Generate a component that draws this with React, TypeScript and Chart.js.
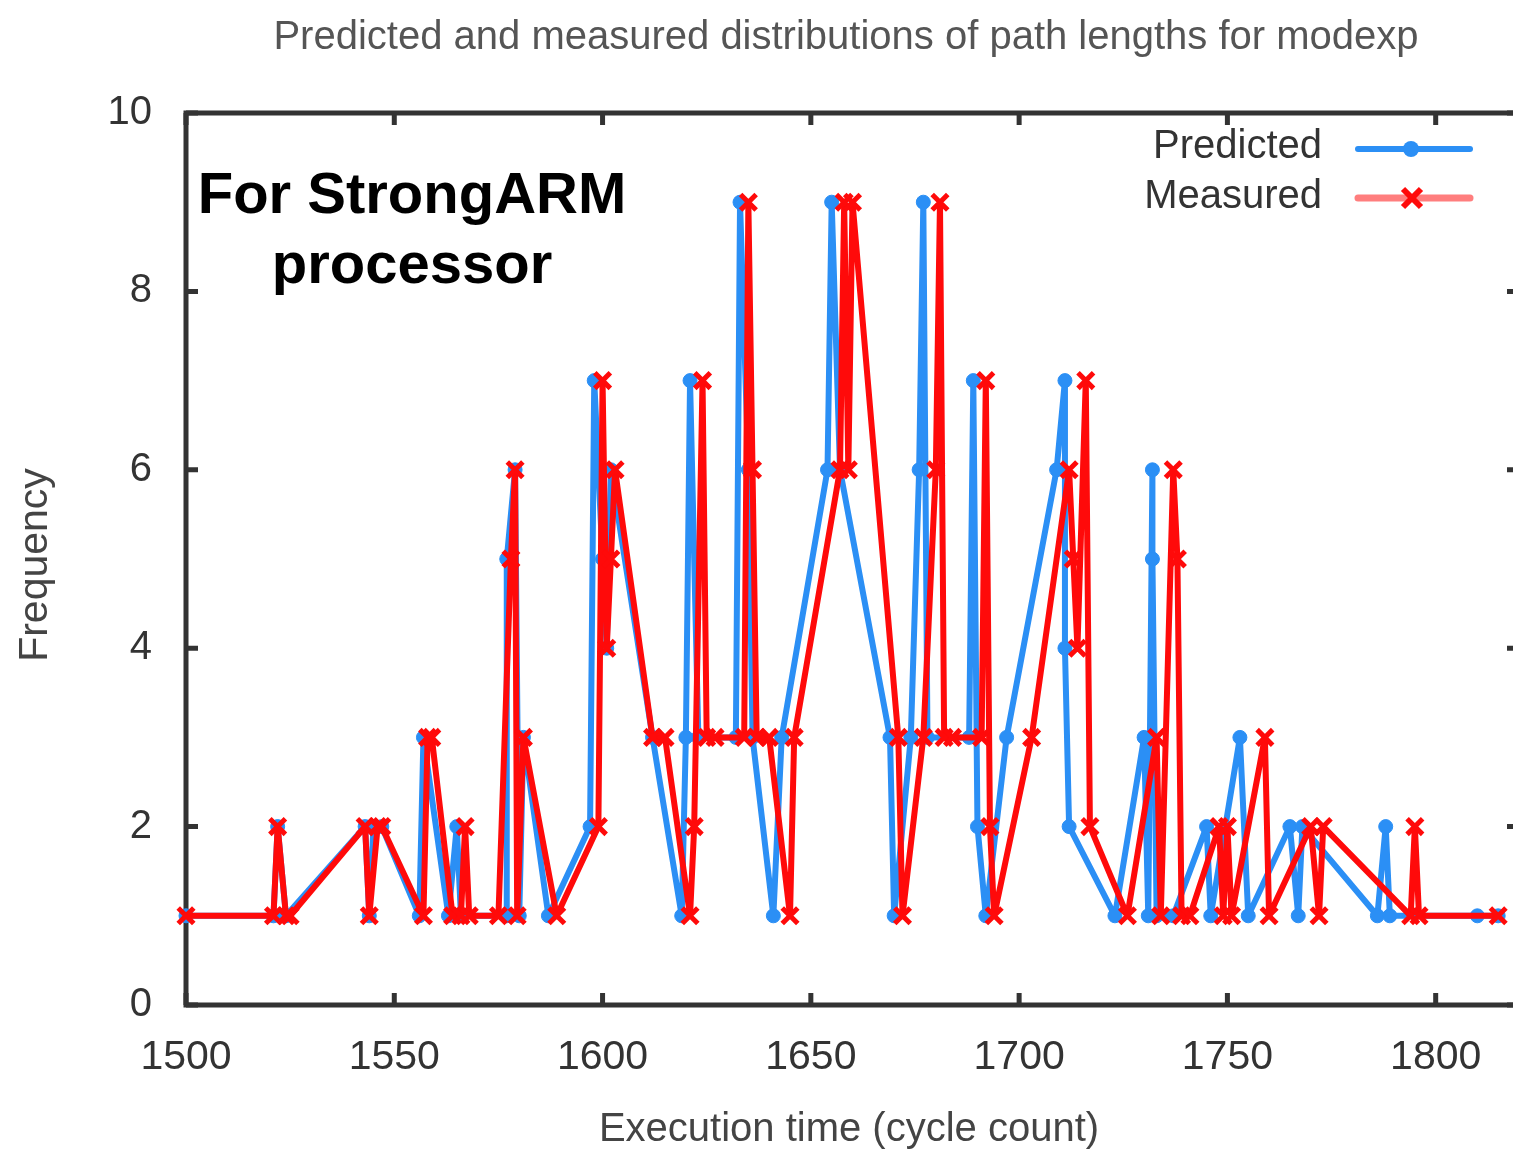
import { useEffect, useRef } from "react";
import { Chart, registerables } from "chart.js";

Chart.register(...registerables);

const chartTitle = "Predicted and measured distributions of path lengths for modexp";
const xTitle = "Execution time (cycle count)";
const yTitle = "Frequency";
const seriesNames = ["Predicted", "Measured"];
const noteLines = ["For StrongARM", "processor"];

const xTicks = [1500, 1550, 1600, 1650, 1700, 1750, 1800];
const yTicks = [0, 2, 4, 6, 8, 10];

const predictedX = [1500, 1521, 1522, 1524, 1543, 1544, 1545, 1547, 1556, 1557, 1563, 1565, 1566, 1577, 1577, 1579, 1580, 1581, 1587, 1597, 1598, 1600, 1601, 1602, 1612, 1619, 1620, 1621, 1623, 1632, 1633, 1635, 1636, 1641, 1643, 1654, 1655, 1657, 1669, 1670, 1674, 1676, 1677, 1678, 1688, 1689, 1690, 1692, 1697, 1709, 1711, 1711, 1712, 1723, 1730, 1731, 1732, 1732, 1733, 1737, 1745, 1746, 1753, 1755, 1765, 1767, 1768, 1786, 1788, 1789, 1810, 1815];
const predictedY = [1, 1, 2, 1, 2, 1, 2, 2, 1, 3, 1, 2, 1, 1, 5, 6, 1, 3, 1, 2, 7, 5, 4, 6, 3, 1, 3, 7, 3, 3, 9, 6, 3, 1, 3, 6, 9, 6, 3, 1, 3, 6, 9, 3, 3, 7, 2, 1, 3, 6, 7, 4, 2, 1, 3, 1, 6, 5, 1, 1, 2, 1, 3, 1, 2, 1, 2, 1, 2, 1, 1, 1];

const measuredX = [1500, 1521, 1522, 1524, 1525, 1543, 1544, 1546, 1547, 1557, 1558, 1559, 1564, 1566, 1567, 1568, 1575, 1578, 1579, 1579.5, 1581, 1589, 1599, 1600, 1601, 1602, 1603, 1612, 1615, 1621, 1622, 1624, 1625, 1627, 1634, 1635, 1636, 1637, 1640, 1645, 1646, 1657, 1658, 1659, 1660, 1671, 1672, 1677, 1680, 1681, 1682, 1684, 1691, 1692, 1693, 1694, 1703, 1712, 1713, 1714, 1716, 1717, 1726, 1733, 1734, 1737, 1738, 1739, 1741, 1748, 1749, 1750, 1751, 1759, 1760, 1770, 1772, 1773, 1794, 1795, 1796, 1815];
const measuredY = [1, 1, 2, 1, 1, 2, 1, 2, 2, 1, 3, 3, 1, 1, 2, 1, 1, 5, 6, 1, 3, 1, 2, 7, 4, 5, 6, 3, 3, 1, 2, 7, 3, 3, 3, 9, 6, 3, 3, 1, 3, 6, 9, 6, 9, 3, 1, 3, 6, 9, 3, 3, 3, 7, 2, 1, 3, 6, 5, 4, 7, 2, 1, 3, 1, 6, 5, 1, 1, 2, 1, 2, 1, 3, 1, 2, 1, 2, 1, 2, 1, 1];

const BLUE = "#2b8ff5";
const RED = "#ff0a0a";
const AXIS = "#333333";
const FONT = "'Liberation Sans', Arial, sans-serif";

const toPoints = (xs: number[], ys: number[]) => xs.map((x, i) => ({ x, y: ys[i] }));

const decorPlugin = {
  id: "decor",
  beforeDatasetsDraw(chart: any) {
    const { ctx, chartArea, scales } = chart;
    const { left, top, right, bottom } = chartArea;
    ctx.save();
    ctx.strokeStyle = AXIS;
    ctx.lineWidth = 5;
    ctx.beginPath();
    ctx.moveTo(right, top);
    ctx.lineTo(left, top);
    ctx.lineTo(left, bottom);
    ctx.lineTo(right, bottom);
    ctx.stroke();
    const tl = 12;
    yTicks.forEach((v) => {
      const y = scales.y.getPixelForValue(v);
      ctx.beginPath();
      ctx.moveTo(left, y);
      ctx.lineTo(left + tl, y);
      ctx.moveTo(right, y);
      ctx.lineTo(right - tl, y);
      ctx.stroke();
    });
    xTicks.forEach((v) => {
      const x = scales.x.getPixelForValue(v);
      ctx.beginPath();
      ctx.moveTo(x, bottom);
      ctx.lineTo(x, bottom - tl);
      ctx.moveTo(x, top);
      ctx.lineTo(x, top + tl);
      ctx.stroke();
    });
    ctx.restore();
  },
  afterDraw(chart: any) {
    const { ctx } = chart;
    ctx.save();
    ctx.fillStyle = "#555555";
    ctx.font = `40px ${FONT}`;
    ctx.textAlign = "center";
    ctx.textBaseline = "middle";
    ctx.fillText(chartTitle, 846, 38);
    ctx.fillStyle = "#444444";
    ctx.font = `40px ${FONT}`;
    ctx.fillText(xTitle, 849, 1130);
    ctx.save();
    ctx.translate(36, 565);
    ctx.rotate(-Math.PI / 2);
    ctx.font = `41px ${FONT}`;
    ctx.fillText(yTitle, 0, 0);
    ctx.restore();
    // legend
    ctx.font = `40px ${FONT}`;
    ctx.textAlign = "right";
    ctx.fillStyle = "#333333";
    ctx.fillText(seriesNames[0], 1322, 147);
    ctx.fillText(seriesNames[1], 1322, 197);
    ctx.lineCap = "round";
    ctx.lineWidth = 6;
    ctx.strokeStyle = BLUE;
    ctx.beginPath();
    ctx.moveTo(1358, 149);
    ctx.lineTo(1470, 149);
    ctx.stroke();
    ctx.fillStyle = BLUE;
    ctx.beginPath();
    ctx.arc(1411, 149, 8, 0, Math.PI * 2);
    ctx.fill();
    ctx.strokeStyle = "rgba(255,40,40,0.6)";
    ctx.lineWidth = 7;
    ctx.beginPath();
    ctx.moveTo(1358, 198);
    ctx.lineTo(1470, 198);
    ctx.stroke();
    ctx.strokeStyle = RED;
    ctx.lineWidth = 6;
    ctx.lineCap = "butt";
    ctx.beginPath();
    ctx.moveTo(1403, 189);
    ctx.lineTo(1421, 207);
    ctx.moveTo(1421, 189);
    ctx.lineTo(1403, 207);
    ctx.stroke();
    // annotation
    ctx.fillStyle = "#000000";
    ctx.font = `bold 58px ${FONT}`;
    ctx.textAlign = "center";
    ctx.textBaseline = "alphabetic";
    ctx.fillText(noteLines[0], 412, 213);
    ctx.fillText(noteLines[1], 412, 283);
    ctx.restore();
  },
};

export default function App() {
  const ref = useRef<HTMLCanvasElement | null>(null);
  useEffect(() => {
    if (!ref.current) return;
    const chart = new Chart(ref.current, {
      type: "line",
      data: {
        datasets: [
          {
            label: seriesNames[1],
            data: toPoints(measuredX, measuredY),
            borderColor: RED,
            backgroundColor: RED,
            borderWidth: 6,
            borderJoinStyle: "round",
            pointStyle: "crossRot",
            pointRadius: 11,
            pointBorderWidth: 5,
            pointBorderColor: RED,
            tension: 0,
            clip: false as any,
            order: 0,
          },
          {
            label: seriesNames[0],
            data: toPoints(predictedX, predictedY),
            borderColor: BLUE,
            backgroundColor: BLUE,
            borderWidth: 6,
            borderJoinStyle: "round",
            pointStyle: "circle",
            pointRadius: 7,
            pointBorderWidth: 1,
            pointBorderColor: BLUE,
            tension: 0,
            clip: false as any,
            order: 1,
          },
        ],
      },
      options: {
        responsive: false,
        animation: false,
        layout: { autoPadding: false, padding: { left: 0, top: 113, right: 0, bottom: 0 } },
        plugins: {
          legend: { display: false },
          title: { display: false },
          tooltip: { enabled: false },
        },
        scales: {
          x: {
            type: "linear",
            min: 1500,
            max: 1820,
            grid: { display: false },
            border: { display: false },
            ticks: {
              stepSize: 50,
              includeBounds: false,
              padding: 20,
              color: "#333333",
              font: { family: FONT, size: 41 },
              maxRotation: 0,
              callback: (v: any) => String(v),
            },
            afterFit: (s: any) => {
              s.height = 147;
              s.paddingLeft = 0;
              s.paddingRight = 0;
            },
          },
          y: {
            type: "linear",
            min: 0,
            max: 10,
            grid: { display: false },
            border: { display: false },
            ticks: {
              stepSize: 2,
              padding: 26,
              color: "#333333",
              font: { family: FONT, size: 40 },
              callback: (v: any) => String(v),
            },
            afterFit: (s: any) => {
              s.width = 186;
              s.paddingTop = 0;
              s.paddingBottom = 0;
            },
          },
        },
      },
      plugins: [decorPlugin],
    });
    return () => chart.destroy();
  }, []);
  return (
    <div style={{ position: "fixed", left: 0, top: 0, width: 1513, height: 1152, overflow: "hidden", background: "#fff" }}>
      <canvas ref={ref} width={1519} height={1152} style={{ display: "block", width: 1519, height: 1152 }} />
    </div>
  );
}
